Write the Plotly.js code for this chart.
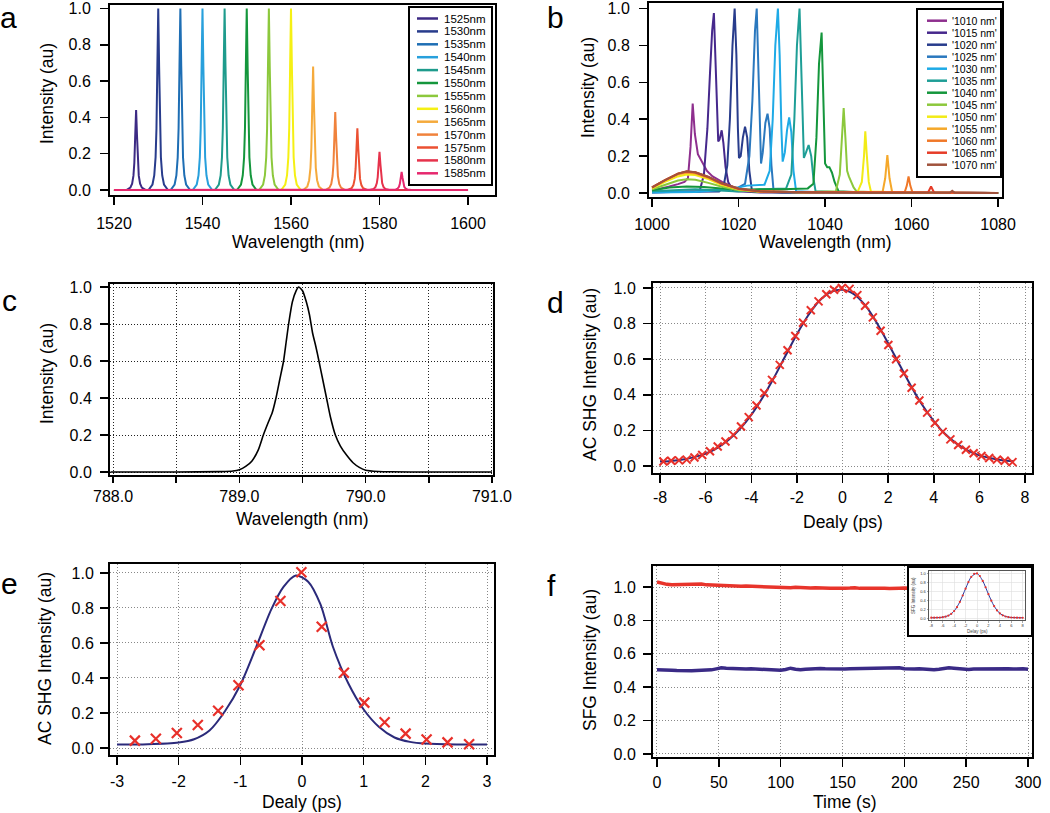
<!DOCTYPE html>
<html><head><meta charset="utf-8">
<script src="https://cdn.plot.ly/plotly-3.0.1.min.js"></script>
<style>html,body{margin:0;padding:0;background:#fff;}#chart{width:1050px;height:813px;}</style>
</head><body><div id="chart"></div>
<script>
// ---------------- Panel a data ----------------
const aLabels = ['1525nm','1530nm','1535nm','1540nm','1545nm','1550nm','1555nm','1560nm','1565nm','1570nm','1575nm','1580nm','1585nm'];
const aColors = ['#3c2a84','#283c8c','#1e6eb4','#28a0dc','#1e9b8c','#14963c','#8cc83c','#f5f014','#f5aa3c','#f0823c','#eb5032','#e6324b','#e6286e'];
const a1525x = [1520,1522.8,1523.7,1524.1,1524.4,1524.6,1524.8,1525,1525.2,1525.4,1525.6,1525.9,1526.3,1527.2,1600];
const a1530x = [1520,1527.8,1528.7,1529.1,1529.4,1529.6,1529.8,1530,1530.2,1530.4,1530.6,1530.9,1531.3,1532.2,1600];
const a1535x = [1520,1532.8,1533.7,1534.1,1534.4,1534.6,1534.8,1535,1535.2,1535.4,1535.6,1535.9,1536.3,1537.2,1600];
const a1540x = [1520,1537.8,1538.7,1539.1,1539.4,1539.6,1539.8,1540,1540.2,1540.4,1540.6,1540.9,1541.3,1542.2,1600];
const a1545x = [1520,1542.8,1543.7,1544.1,1544.4,1544.6,1544.8,1545,1545.2,1545.4,1545.6,1545.9,1546.3,1547.2,1600];
const a1550x = [1520,1547.8,1548.7,1549.1,1549.4,1549.6,1549.8,1550,1550.2,1550.4,1550.6,1550.9,1551.3,1552.2,1600];
const a1555x = [1520,1552.8,1553.7,1554.1,1554.4,1554.6,1554.8,1555,1555.2,1555.4,1555.6,1555.9,1556.3,1557.2,1600];
const a1560x = [1520,1557.8,1558.7,1559.1,1559.4,1559.6,1559.8,1560,1560.2,1560.4,1560.6,1560.9,1561.3,1562.2,1600];
const a1565x = [1520,1562.8,1563.7,1564.1,1564.4,1564.6,1564.8,1565,1565.2,1565.4,1565.6,1565.9,1566.3,1567.2,1600];
const a1570x = [1520,1567.8,1568.7,1569.1,1569.4,1569.6,1569.8,1570,1570.2,1570.4,1570.6,1570.9,1571.3,1572.2,1600];
const a1575x = [1520,1572.8,1573.7,1574.1,1574.4,1574.6,1574.8,1575,1575.2,1575.4,1575.6,1575.9,1576.3,1577.2,1600];
const a1580x = [1520,1577.8,1578.7,1579.1,1579.4,1579.6,1579.8,1580,1580.2,1580.4,1580.6,1580.9,1581.3,1582.2,1600];
const a1585x = [1520,1582.8,1583.7,1584.1,1584.4,1584.6,1584.8,1585,1585.2,1585.4,1585.6,1585.9,1586.3,1587.2,1600];
const a1525y = [0,0,0.013,0.035,0.079,0.15,0.3,0.44,0.3,0.15,0.079,0.035,0.013,0,0];
const a1530y = [0,0,0.03,0.08,0.18,0.34,0.68,1.0,0.68,0.34,0.18,0.08,0.03,0,0];
const a1535y = [0,0,0.03,0.08,0.18,0.34,0.68,1.0,0.68,0.34,0.18,0.08,0.03,0,0];
const a1540y = [0,0,0.03,0.08,0.18,0.34,0.68,1.0,0.68,0.34,0.18,0.08,0.03,0,0];
const a1545y = [0,0,0.03,0.08,0.18,0.34,0.68,1.0,0.68,0.34,0.18,0.08,0.03,0,0];
const a1550y = [0,0,0.03,0.08,0.18,0.34,0.68,1.0,0.68,0.34,0.18,0.08,0.03,0,0];
const a1555y = [0,0,0.03,0.08,0.18,0.34,0.68,1.0,0.68,0.34,0.18,0.08,0.03,0,0];
const a1560y = [0,0,0.03,0.08,0.18,0.34,0.68,1.0,0.68,0.34,0.18,0.08,0.03,0,0];
const a1565y = [0,0,0.02,0.054,0.122,0.23,0.46,0.68,0.46,0.23,0.122,0.054,0.02,0,0];
const a1570y = [0,0,0.013,0.034,0.077,0.146,0.29,0.43,0.29,0.146,0.077,0.034,0.013,0,0];
const a1575y = [0,0,0.01,0.027,0.061,0.116,0.23,0.34,0.23,0.116,0.061,0.027,0.01,0,0];
const a1580y = [0,0,0.006,0.017,0.038,0.071,0.143,0.21,0.143,0.071,0.038,0.017,0.006,0,0];
const a1585y = [0,0,0.003,0.008,0.018,0.034,0.068,0.10,0.068,0.034,0.018,0.008,0.003,0,0];

// ---------------- Panel b data ----------------
const bLabels = ["'1010 nm'","'1015 nm'","'1020 nm'","'1025 nm'","'1030 nm'","'1035 nm'","'1040 nm'","'1045 nm'","'1050 nm'","'1055 nm'","'1060 nm'","'1065 nm'","'1070 nm'"];
const bColors = ['#8e2f8e','#46288c','#283c8c','#2a78be','#1eaae6','#1e9e96','#14963c','#8cc83c','#f2eb16','#f5a82a','#f07828','#e63c28','#a0523c'];
const b1010x = [1000,1002,1004,1006,1007.5,1008.3,1008.9,1009.4,1009.9,1010.6,1011.5,1012.7,1014,1016.2,1019,1023,1030,1080];
const b1010y = [0.012,0.022,0.035,0.048,0.06,0.08,0.25,0.485,0.32,0.21,0.17,0.12,0.09,0.06,0.03,0.012,0.004,0];
const b1015x = [1000,1005,1010,1011.0,1012.0,1012.8,1013.4,1013.9,1014.3,1014.7,1015.0,1015.3,1015.6,1016.1,1016.5,1017.0,1017.6,1018.8,1025,1080];
const b1015y = [0.003,0.006,0.006,0.01,0.1,0.35,0.65,0.88,0.975,0.7,0.4,0.28,0.29,0.34,0.27,0.14,0.06,0.01,0.003,0];
const b1020x = [1000,1010,1015.5,1016.5,1017.4,1018.0,1018.6,1019.1,1019.5,1019.85,1020.1,1020.5,1021.0,1021.5,1022.0,1022.5,1023.1,1030,1080];
const b1020y = [0.005,0.006,0.008,0.03,0.15,0.4,0.8,1.0,0.75,0.35,0.19,0.2,0.3,0.36,0.3,0.12,0.01,0.003,0];
const b1025x = [1000,1010,1016,1020,1021.5,1022.5,1023.2,1023.8,1024.2,1024.6,1024.9,1025.2,1025.6,1026.2,1026.7,1027.2,1027.6,1028.1,1035,1080];
const b1025y = [0.004,0.008,0.02,0.03,0.05,0.2,0.5,0.88,1.0,0.7,0.35,0.16,0.22,0.38,0.43,0.35,0.15,0.01,0.003,0];
const b1030x = [1000,1010,1018,1022,1026,1027.2,1027.9,1028.5,1029.1,1029.5,1029.9,1030.2,1030.7,1031.2,1031.7,1032.2,1032.7,1033.3,1040,1080];
const b1030y = [0.003,0.005,0.02,0.04,0.045,0.12,0.4,0.8,1.0,0.75,0.35,0.17,0.22,0.34,0.41,0.33,0.12,0.01,0.003,0];
const b1035x = [1000,1010,1020,1025,1031,1032.2,1032.9,1033.5,1034.1,1034.5,1034.8,1035.1,1035.6,1036.2,1036.8,1037.3,1037.8,1045,1080];
const b1035y = [0.01,0.02,0.008,0.02,0.025,0.1,0.4,0.8,1.0,0.7,0.35,0.19,0.22,0.26,0.2,0.08,0.01,0.003,0];
const b1040x = [1000,1004,1008,1012,1016,1020,1025,1030,1036,1037.3,1038.0,1038.6,1039.2,1039.6,1040.0,1040.5,1041.0,1041.6,1042.2,1043.1,1050,1080];
const b1040y = [0.015,0.03,0.035,0.033,0.025,0.018,0.02,0.02,0.025,0.05,0.3,0.7,0.87,0.5,0.16,0.14,0.14,0.11,0.06,0.01,0.002,0];
const b1045x = [1000,1003,1006,1008,1010,1013,1016,1020,1025,1035,1042.5,1043.4,1043.9,1044.3,1044.7,1045.1,1045.5,1046.0,1046.6,1047.3,1055,1080];
const b1045y = [0.02,0.045,0.068,0.075,0.072,0.055,0.035,0.015,0.006,0.004,0.01,0.1,0.3,0.46,0.3,0.12,0.09,0.06,0.03,0.008,0.002,0];
const b1050x = [1000,1003,1006,1008,1010,1013,1016,1020,1025,1035,1047.5,1048.5,1049.0,1049.3,1049.6,1050.1,1050.6,1060,1080];
const b1050y = [0.025,0.06,0.09,0.1,0.097,0.075,0.045,0.02,0.008,0.004,0.005,0.06,0.2,0.335,0.22,0.06,0.008,0.002,0];
const b1055x = [1000,1003,1006,1008,1010,1013,1016,1020,1025,1035,1053.3,1053.9,1054.4,1054.9,1055.5,1065,1080];
const b1055y = [0.028,0.068,0.1,0.11,0.106,0.082,0.05,0.022,0.008,0.004,0.006,0.08,0.205,0.08,0.006,0.002,0];
const b1060x = [1000,1003,1006,1008,1010,1013,1016,1020,1025,1035,1058.4,1058.9,1059.3,1059.7,1060.2,1070,1080];
const b1060y = [0.03,0.07,0.105,0.115,0.11,0.085,0.052,0.022,0.008,0.004,0.004,0.04,0.09,0.04,0.004,0.001,0];
const b1065x = [1000,1003,1006,1008,1010,1013,1016,1020,1025,1035,1063.8,1064.5,1065.2,1075,1080];
const b1065y = [0.03,0.07,0.105,0.117,0.112,0.087,0.053,0.023,0.008,0.004,0.003,0.035,0.003,0.001,0];
const b1070x = [1000,1003,1006,1008,1010,1013,1016,1020,1025,1035,1050,1068.9,1069.4,1069.9,1080];
const b1070y = [0.03,0.07,0.105,0.118,0.112,0.088,0.054,0.024,0.009,0.004,0.002,0.002,0.012,0.002,0];

// ---------------- Panel c data ----------------
const cX = [787.98,788.5,788.85,788.95,789.0,789.05,789.1,789.15,789.19,789.23,789.26,789.29,789.32,789.35,789.37,789.39,789.42,789.45,789.47,789.5,789.53,789.555,789.58,789.605,789.63,789.66,789.69,789.72,789.76,789.8,789.85,789.9,789.95,790.0,790.1,790.2,790.5,791.0];
const cY = [0,0,0.002,0.005,0.012,0.03,0.06,0.12,0.2,0.27,0.32,0.4,0.5,0.6,0.7,0.8,0.92,0.98,1.0,0.98,0.92,0.85,0.75,0.68,0.6,0.5,0.4,0.3,0.2,0.14,0.09,0.05,0.025,0.01,0.003,0.001,0,0];
const cTickVals = [788,788.5,789,789.5,790,790.5,791];
const cTickText = ['788.0','','789.0','','790.0','','791.0'];

// ---------------- Panel d data ----------------
const dX = [-7.85,-7.51,-7.17,-6.83,-6.49,-6.15,-5.81,-5.47,-5.13,-4.79,-4.45,-4.11,-3.77,-3.43,-3.09,-2.75,-2.41,-2.07,-1.73,-1.39,-1.05,-0.71,-0.37,-0.03,0.31,0.65,0.99,1.33,1.67,2.01,2.35,2.69,3.03,3.37,3.71,4.05,4.39,4.73,5.07,5.41,5.75,6.09,6.43,6.77,7.11,7.45];
const dY = [0.026,0.03,0.032,0.036,0.048,0.062,0.083,0.11,0.138,0.175,0.222,0.275,0.34,0.41,0.484,0.568,0.65,0.73,0.805,0.875,0.925,0.965,0.99,1.0,0.995,0.96,0.9,0.835,0.76,0.68,0.6,0.52,0.44,0.368,0.3,0.242,0.192,0.15,0.118,0.092,0.072,0.056,0.045,0.036,0.03,0.022];
const dFitX = [-8,-7.5,-7,-6.5,-6,-5.5,-5,-4.5,-4,-3.5,-3,-2.5,-2,-1.5,-1,-0.5,0,0.5,1,1.5,2,2.5,3,3.5,4,4.5,5,5.5,6,6.5,7,7.5];
const dFitY = [0.025,0.029,0.037,0.05,0.07,0.101,0.146,0.207,0.287,0.385,0.497,0.619,0.74,0.847,0.93,0.978,0.99,0.965,0.902,0.805,0.69,0.569,0.45,0.343,0.253,0.18,0.126,0.087,0.06,0.044,0.033,0.027];
const dTickVals = [-8,-6,-4,-2,0,2,4,6,8];
const dTickText = ['-8','-6','-4','-2','0','2','4','6','8'];

// ---------------- Panel e data ----------------
const eX = [-2.71,-2.37,-2.03,-1.69,-1.36,-1.03,-0.69,-0.35,-0.01,0.32,0.68,1.01,1.34,1.68,2.02,2.36,2.71];
const eY = [0.042,0.053,0.086,0.131,0.213,0.358,0.587,0.84,1.004,0.693,0.43,0.259,0.147,0.082,0.048,0.032,0.021];
const eFitX = [-3,-2.5,-2.0,-1.75,-1.5,-1.25,-1.0,-0.75,-0.5,-0.3,-0.1,0.1,0.3,0.5,0.75,1.0,1.25,1.5,1.75,2.0,2.5,3];
const eFitY = [0.02,0.022,0.032,0.05,0.1,0.21,0.36,0.57,0.79,0.92,0.985,0.95,0.82,0.58,0.37,0.22,0.12,0.06,0.035,0.025,0.02,0.02];
const eTickVals = [-3,-2,-1,0,1,2,3];
const eTickText = ['-3','-2','-1','0','1','2','3'];

// ---------------- Panel f data ----------------
const fTime = [0,4,8,12,16,20,24,28,32,36,40,44,48,52,56,60,64,68,72,76,80,84,88,92,96,100,104,108,112,116,120,124,128,132,136,140,144,148,152,156,160,164,168,172,176,180,184,188,192,196,200,204,208,212,216,220,224,228,232,236,240,244,248,252,256,260,264,268,272,276,280,284,288,292,296,300];
const fRed = [1.030,1.022,1.016,1.014,1.015,1.013,1.012,1.016,1.019,1.018,1.013,1.011,1.010,1.009,1.006,1.007,1.005,1.004,1.006,1.005,
              1.001,1.002,0.999,1.000,0.998,0.997,0.998,0.996,0.999,0.996,0.995,0.994,0.995,0.993,0.994,0.992,0.993,0.991,0.993,0.994,
              0.996,0.992,0.993,0.991,0.994,0.992,0.993,0.991,0.994,0.993,0.994,0.992,0.993,0.991,0.992,0.990,0.991,0.992,0.990,0.991,
              0.992,0.990,0.991,0.989,0.990,0.991,0.990,0.989,0.991,0.990,0.989,0.990,0.991,0.989,0.990,0.990];
const fBlue = [0.505,0.502,0.503,0.501,0.500,0.498,0.497,0.499,0.500,0.501,0.502,0.504,0.510,0.516,0.514,0.512,0.511,0.510,0.509,0.510,
               0.508,0.507,0.506,0.505,0.503,0.502,0.506,0.514,0.508,0.505,0.508,0.510,0.511,0.512,0.510,0.509,0.508,0.510,0.509,0.511,
               0.512,0.511,0.512,0.513,0.515,0.517,0.518,0.519,0.520,0.516,0.511,0.508,0.509,0.510,0.508,0.507,0.505,0.508,0.512,0.516,
               0.514,0.510,0.508,0.506,0.509,0.510,0.508,0.507,0.509,0.512,0.514,0.511,0.509,0.512,0.510,0.508];
const fInFitX = [-8,-7,-6,-5,-4,-3,-2,-1,0,1,2,3,4,5,6,7,8];
const fInFitY = [0.01,0.012,0.022,0.058,0.159,0.363,0.657,0.92,0.995,0.83,0.535,0.268,0.107,0.038,0.016,0.011,0.01];
const fInDotX = [-8,-7.5,-7,-6.5,-6,-5.5,-5,-4.5,-4,-3.5,-3,-2.5,-2,-1.5,-1,-0.5,0,0.5,1,1.5,2,2.5,3,3.5,4,4.5,5,5.5,6,6.5,7,7.5,8];
const fInDotY = [0.012,0.011,0.013,0.015,0.022,0.035,0.058,0.098,0.16,0.245,0.363,0.505,0.657,0.803,0.92,0.988,0.995,0.939,0.83,0.688,0.535,0.39,0.268,0.173,0.107,0.064,0.038,0.024,0.016,0.013,0.011,0.01,0.01];
const fInTickVals = [-8,-6,-4,-2,0,2,4,6,8];
const fInTickText = ['-8','-6','-4','-2','0','2','4','6','8'];

// ---------------- Layout helpers ----------------
const FONT = 'Liberation Sans, Arial, Helvetica, sans-serif';
const W = 1050, H = 813;
const px = x => x / W, py = y => 1 - y / H;
function dom(x0, x1, y0, y1) { return { x: [px(x0), px(x1)], y: [py(y1), py(y0)] }; }
function axis(domain, range, anchor, opts) {
  return Object.assign({
    domain: domain, range: range, anchor: anchor, showline: true, mirror: true, linewidth: 2, linecolor: '#000',
    ticks: 'outside', ticklen: 8, tickwidth: 1.5, tickcolor: '#000', ticklabelstandoff: 5, ticklabeloverflow: 'allow',
    tickfont: { family: FONT, size: 16, color: '#000' },
    zeroline: false, showgrid: false, fixedrange: true, layer: 'above traces'
  }, opts || {});
}
const gridC = { showgrid: true, gridcolor: '#222', griddash: '1px,2px', gridwidth: 1 };
const gridG = { showgrid: true, gridcolor: '#888', griddash: '1px,2px', gridwidth: 1 };

const dA = dom(110,495,5,195), dB = dom(649,1002,3,197), dC = dom(110,493,284,475),
      dD = dom(653,1032,283,473), dE = dom(110,494,564,755), dF = dom(653,1032,566,757),
      dBox = dom(908,1032,567,636), dIn = dom(929,1025,571,620);

const traces = [];
const aSeries = [[a1525x,a1525y],[a1530x,a1530y],[a1535x,a1535y],[a1540x,a1540y],[a1545x,a1545y],[a1550x,a1550y],[a1555x,a1555y],[a1560x,a1560y],[a1565x,a1565y],[a1570x,a1570y],[a1575x,a1575y],[a1580x,a1580y],[a1585x,a1585y]];
aSeries.forEach((s, i) => traces.push({ type: 'scatter', mode: 'lines', x: s[0], y: s[1], name: aLabels[i], xaxis: 'x', yaxis: 'y', line: { color: aColors[i], width: 2 }, hoverinfo: 'skip' }));
const bSeries = [[b1010x,b1010y],[b1015x,b1015y],[b1020x,b1020y],[b1025x,b1025y],[b1030x,b1030y],[b1035x,b1035y],[b1040x,b1040y],[b1045x,b1045y],[b1050x,b1050y],[b1055x,b1055y],[b1060x,b1060y],[b1065x,b1065y],[b1070x,b1070y]];
bSeries.forEach((s, i) => traces.push({ type: 'scatter', mode: 'lines', x: s[0], y: s[1], name: bLabels[i], xaxis: 'x2', yaxis: 'y2', line: { color: bColors[i], width: 2 }, hoverinfo: 'skip' }));
traces.push({ type: 'scatter', mode: 'lines', x: cX, y: cY, xaxis: 'x3', yaxis: 'y3', line: { color: '#000', width: 1.6, shape: 'spline', smoothing: 0.6 }, hoverinfo: 'skip' });
traces.push({ type: 'scatter', mode: 'lines', x: dFitX, y: dFitY, xaxis: 'x4', yaxis: 'y4', line: { color: '#2b2a7a', width: 2, shape: 'spline', smoothing: 0.8 }, hoverinfo: 'skip' });
traces.push({ type: 'scatter', mode: 'markers', x: dX, y: dY, xaxis: 'x4', yaxis: 'y4', marker: { symbol: 'x-thin', size: 8, line: { color: '#e8302a', width: 2 } }, hoverinfo: 'skip' });
traces.push({ type: 'scatter', mode: 'lines', x: eFitX, y: eFitY, xaxis: 'x5', yaxis: 'y5', line: { color: '#2b2a7a', width: 2, shape: 'spline', smoothing: 0.8 }, hoverinfo: 'skip' });
traces.push({ type: 'scatter', mode: 'markers', x: eX, y: eY, xaxis: 'x5', yaxis: 'y5', marker: { symbol: 'x-thin', size: 10, line: { color: '#e8302a', width: 2.2 } }, hoverinfo: 'skip' });
traces.push({ type: 'scatter', mode: 'lines', x: fTime, y: fRed, xaxis: 'x6', yaxis: 'y6', line: { color: '#e8342b', width: 3.5 }, hoverinfo: 'skip' });
traces.push({ type: 'scatter', mode: 'lines', x: fTime, y: fBlue, xaxis: 'x6', yaxis: 'y6', line: { color: '#3a2a86', width: 3.5 }, hoverinfo: 'skip' });
traces.push({ type: 'scatter', mode: 'lines', x: [], y: [], xaxis: 'x7', yaxis: 'y7', hoverinfo: 'skip' });
traces.push({ type: 'scatter', mode: 'lines', x: fInFitX, y: fInFitY, xaxis: 'x8', yaxis: 'y8', line: { color: '#2b3aa0', width: 1, shape: 'spline', smoothing: 0.8 }, hoverinfo: 'skip' });
traces.push({ type: 'scatter', mode: 'markers', x: fInDotX, y: fInDotY, xaxis: 'x8', yaxis: 'y8', marker: { color: '#e8302a', size: 2.2 }, hoverinfo: 'skip' });

const inTick = { family: FONT, size: 4, color: '#333' };
const layout = {
  width: W, height: H, margin: { l: 0, r: 0, t: 0, b: 0 }, paper_bgcolor: '#fff', plot_bgcolor: '#fff', showlegend: false,
  xaxis: axis(dA.x, [1519.1, 1606.1], 'y', { tick0: 1520, dtick: 20, ticklabelstandoff: 5 }),
  yaxis: axis(dA.y, [-0.0275, 1.019], 'x', { tick0: 0, dtick: 0.2, tickformat: '.1f', ticklabelstandoff: 6 }),
  xaxis2: axis(dB.x, [999.3, 1080.9], 'y2', { tick0: 1000, dtick: 20, ticklabelstandoff: 4 }),
  yaxis2: axis(dB.y, [-0.0217, 1.030], 'x2', { tick0: 0, dtick: 0.2, tickformat: '.1f', ticklabelstandoff: 6 }),
  xaxis3: axis(dC.x, [787.976, 791.008], 'y3', Object.assign({ tickmode: 'array', tickvals: cTickVals, ticktext: cTickText, ticklen: 6, ticklabelstandoff: 0 }, gridC)),
  yaxis3: axis(dC.y, [-0.0162, 1.0162], 'x3', Object.assign({ tick0: 0, dtick: 0.2, tickformat: '.1f', ticklabelstandoff: 5 }, gridC)),
  xaxis4: axis(dD.x, [-8.307, 8.307], 'y4', Object.assign({ tickmode: 'array', tickvals: dTickVals, ticktext: dTickText, ticklabelstandoff: 1 }, gridG)),
  yaxis4: axis(dD.y, [-0.039, 1.028], 'x4', Object.assign({ tick0: 0, dtick: 0.2, tickformat: '.1f', ticklabelstandoff: 4 }, gridG)),
  xaxis5: axis(dE.x, [-3.1135, 3.1135], 'y5', Object.assign({ tickmode: 'array', tickvals: eTickVals, ticktext: eTickText, ticklabelstandoff: 3 }, gridG)),
  yaxis5: axis(dE.y, [-0.04, 1.051], 'x5', Object.assign({ tick0: 0, dtick: 0.2, tickformat: '.1f', ticklabelstandoff: 3 }, gridG)),
  xaxis6: axis(dF.x, [-3.23, 303.2], 'y6', Object.assign({ tick0: 0, dtick: 50, ticklabelstandoff: 2 }, gridG)),
  yaxis6: axis(dF.y, [-0.018, 1.126], 'x6', Object.assign({ tick0: 0, dtick: 0.2, tickformat: '.1f', ticklabelstandoff: 4 }, gridG)),
  xaxis7: { domain: dBox.x, range: [0, 1], anchor: 'y7', showline: false, showgrid: false, zeroline: false, showticklabels: false, ticks: '', fixedrange: true },
  yaxis7: { domain: dBox.y, range: [0, 1], anchor: 'x7', showline: false, showgrid: false, zeroline: false, showticklabels: false, ticks: '', fixedrange: true },
  xaxis8: { domain: dIn.x, range: [-8.4, 8.4], anchor: 'y8', showline: true, mirror: true, linewidth: 1, linecolor: '#555', ticks: 'outside', ticklen: 1.5, tickwidth: 0.5, tickcolor: '#555', tickfont: inTick, tickmode: 'array', tickvals: fInTickVals, ticktext: fInTickText, showgrid: true, gridcolor: '#ddd', gridwidth: 0.6, zeroline: false, fixedrange: true },
  yaxis8: { domain: dIn.y, range: [-0.04, 1.05], anchor: 'x8', showline: true, mirror: true, linewidth: 1, linecolor: '#555', ticks: 'outside', ticklen: 1.5, tickwidth: 0.5, tickcolor: '#555', tickfont: inTick, tick0: 0, dtick: 0.2, tickformat: '.1f', ticklabeloverflow: 'allow', showgrid: true, gridcolor: '#ddd', gridwidth: 0.6, zeroline: false, fixedrange: true },
  shapes: [], annotations: []
};

function rect(x0, x1, y0, y1, w, fill) {
  return { type: 'rect', xref: 'paper', yref: 'paper', x0: px(x0), x1: px(x1), y0: py(y1), y1: py(y0), line: { color: '#000', width: w }, fillcolor: fill || 'rgba(0,0,0,0)', layer: 'above' };
}
function hline(x0, x1, y, color, w) {
  return { type: 'line', xref: 'paper', yref: 'paper', x0: px(x0), x1: px(x1), y0: py(y), y1: py(y), line: { color: color, width: w }, layer: 'above' };
}
function txt(text, x, y, size, opts) {
  return Object.assign({ text: text, x: px(x), y: py(y), xref: 'paper', yref: 'paper', showarrow: false, xanchor: 'center', yanchor: 'middle', font: { family: FONT, size: size, color: '#000' } }, opts || {});
}

// legends
layout.shapes.push(rect(409, 492, 7, 185, 2, '#fff'));
aLabels.forEach((lab, i) => {
  const y = 18.5 + i * 12.9;
  layout.shapes.push(hline(417, 438, y, aColors[i], 2.5));
  layout.annotations.push(txt(lab, 442, y, 11.5, { xanchor: 'left' }));
});
layout.shapes.push(rect(917, 1001, 9, 177, 2, '#fff'));
bLabels.forEach((lab, i) => {
  const y = 20.7 + i * 12.0;
  layout.shapes.push(hline(927, 947, y, bColors[i], 2.5));
  layout.annotations.push(txt(lab, 950, y, 10.5, { xanchor: 'left' }));
});
// inset border
layout.shapes.push(rect(908, 1032, 567, 636, 2));

// axis titles
const yT = { textangle: -90 };
layout.annotations.push(txt('Intensity (au)', 47, 94, 17.5, yT));
layout.annotations.push(txt('Intensity (au)', 588, 88, 17.5, yT));
layout.annotations.push(txt('Intensity (au)', 47, 374, 17.5, yT));
layout.annotations.push(txt('AC SHG Intensity (au)', 590, 375, 17.5, yT));
layout.annotations.push(txt('AC SHG Intensity (au)', 45, 659, 17.5, yT));
layout.annotations.push(txt('SFG Intensity (au)', 590, 660, 17.5, yT));
layout.annotations.push(txt('Wavelength (nm)', 298, 242, 17.5));
layout.annotations.push(txt('Wavelength (nm)', 825, 242, 17.5));
layout.annotations.push(txt('Wavelength (nm)', 302, 519, 17.5));
layout.annotations.push(txt('Dealy (ps)', 843, 522, 17.5));
layout.annotations.push(txt('Dealy (ps)', 302, 802, 17.5));
layout.annotations.push(txt('Time (s)', 845, 802, 17.5));
// inset titles
layout.annotations.push(txt('SFG Intensity (au)', 913, 596, 4.5, { textangle: -90, font: { family: FONT, size: 4.5, color: '#444' } }));
layout.annotations.push(txt('Delay (ps)', 977, 631, 4.5, { font: { family: FONT, size: 4.5, color: '#444' } }));
// panel letters
const letterFont = { family: FONT, size: 30, color: '#000' };
[['a', 8, 0], ['b', 555, 0], ['c', 9, 283], ['d', 555, 285], ['e', 9, 566], ['f', 551, 568]].forEach(l => {
  layout.annotations.push(txt(l[0], l[1], l[2], 30, { font: letterFont, yanchor: 'top', borderpad: 0 }));
});

Plotly.newPlot('chart', traces, layout, { staticPlot: true, displayModeBar: false });
</script>
</body></html>
